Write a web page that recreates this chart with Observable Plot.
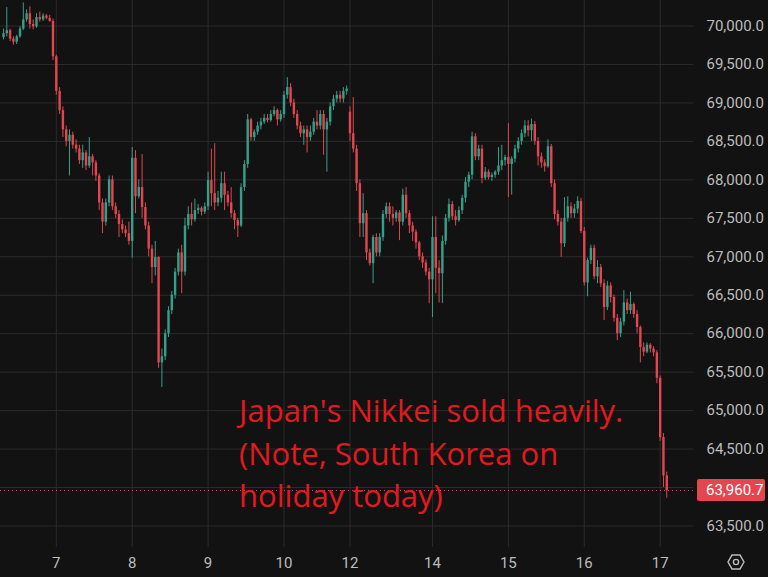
<!DOCTYPE html>
<html><head><meta charset="utf-8">
<script src="https://cdn.jsdelivr.net/npm/d3@7"></script>
<script src="https://cdn.jsdelivr.net/npm/@observablehq/plot@0.6"></script>
<style>
html,body{margin:0;padding:0;background:#121212;}
#chart{width:768px;height:577px;overflow:hidden;}
</style></head><body><div id="chart"></div>
<script>
const open = [69850,69900,69940,69830,69790,69860,69960,70080,70160,70020,
69990,70110,70080,70130,70100,70060,69600,69150,68900,68650,
68500,68580,68450,68400,68250,68350,68180,68300,68220,68050,
67700,67450,67700,68000,67650,67550,67420,67350,67300,67200,
68280,67780,67900,67640,67400,67100,66860,66990,65620,65700,
66000,66300,66500,66800,67050,66800,67400,67550,67480,67600,
67630,67580,67650,67990,67820,67700,67760,67950,67800,67700,
67560,67470,67400,67900,68200,68780,68550,68620,68700,68750,
68800,68770,68850,68900,68780,68850,69100,69200,69000,68850,
68700,68600,68650,68550,68620,68750,68700,68850,68650,68750,
68950,69050,69100,69050,69150,68880,68600,68400,67950,67430,
67560,67050,66910,67250,67050,67250,67550,67650,67550,67500,
67570,67450,67800,67560,67400,67320,67180,67000,66920,66800,
66700,67250,66850,66780,67200,67500,67680,67520,67470,67600,
67760,67970,68060,68560,68300,68400,68020,68100,68030,68060,
68100,68180,68250,68290,68200,68270,68400,68500,68600,68700,
68640,68720,68500,68300,68220,68170,68430,67950,67550,67450,
67170,67500,67650,67560,67620,67720,67330,66660,66950,67110,
66740,66860,66650,66340,66620,66470,66200,66000,66150,66400,
66300,66380,66250,66080,65820,65760,65850,65800,65750,65420,
64650,64150];
const high = [69960,70240,69960,69860,69880,69990,70300,70210,70250,70080,
70160,70180,70160,70150,70140,70090,69620,69200,68950,68700,
68650,68620,68520,68450,68450,68380,68550,68330,68250,68080,
67750,67750,68050,68050,67700,67600,67480,67400,67450,68420,
68380,68000,68330,67700,67450,67150,67200,67000,65800,66050,
66350,66550,66850,67100,67150,67500,67650,67700,67750,67680,
67650,67700,68100,68400,68470,67850,68100,68100,67850,67900,
67600,67500,67950,68250,68850,68800,68650,68750,68800,68850,
68850,68900,68950,68920,68900,69150,69330,69250,69050,68900,
68750,68700,68700,68700,68800,68900,68900,68900,68800,69000,
69100,69150,69150,69200,69220,68950,69070,68450,68000,67820,
67600,67100,67280,67300,67300,67600,67700,67700,67650,67600,
67600,67880,67900,67600,67450,67350,67200,67050,66960,66850,
67520,67520,66950,67270,67550,67750,67720,67600,67650,67800,
68030,68100,68620,68600,68450,68450,68160,68130,68090,68120,
68420,68450,68320,68730,68300,68450,68550,68650,68770,68770,
68790,68760,68550,68350,68260,68520,68460,68000,67600,67500,
67770,67780,67700,67680,67780,67760,67380,66980,67150,67150,
66950,66900,66700,66680,66660,66500,66250,66200,66560,66450,
66540,66400,66300,66100,65880,65880,65870,65830,65780,65450,
64700,64200];
const low = [69820,69860,69800,69750,69760,69840,69940,70050,69960,69950,
69970,70050,70060,70080,70050,69550,69100,68850,68550,68430,
68050,68400,68350,68200,68150,68120,68150,68050,67980,67600,
67300,67400,67650,67600,67500,67250,67300,67250,67150,66980,
67560,67750,67500,67350,67000,66650,66750,65550,65300,65650,
65950,66250,66450,66750,66520,66750,67350,67400,67450,67550,
67530,67550,67600,67650,67600,67650,67700,67600,67650,67500,
67350,67250,67380,67850,68150,68500,68500,68580,68650,68720,
68740,68750,68820,68700,68750,68800,69050,68950,68800,68650,
68550,68450,68350,68500,68580,68650,68650,68320,68100,68700,
68900,69000,69000,69000,69100,68500,68350,67850,67250,67250,
66950,66880,66650,67000,67000,67200,67500,67450,67400,67450,
67210,67400,67500,67300,67200,67100,66950,66850,66750,66390,
66210,66520,66400,66390,67150,67450,67470,67400,67450,67550,
67700,67900,68000,68250,68250,67950,67990,68000,67980,68020,
68060,68120,68180,67770,67800,68220,68350,68450,68550,68560,
68500,68450,68180,68150,68100,68150,67900,67480,67400,66990,
67120,67450,67500,67500,67560,67300,66620,66480,66900,66700,
66650,66600,66170,66300,66400,66150,65910,65950,66100,66250,
66250,66200,66000,65620,65700,65740,65750,65700,65350,64600,
64000,63860];
const close = [69900,69940,69830,69790,69860,69960,70080,70160,70020,69990,
70110,70080,70130,70100,70060,69600,69150,68900,68650,68500,
68580,68450,68400,68250,68350,68180,68300,68220,68050,67700,
67450,67700,68000,67650,67550,67420,67350,67300,67200,68280,
67780,67900,67640,67400,67100,66860,66990,65620,65700,66000,
66300,66500,66800,67050,66800,67400,67550,67480,67600,67630,
67580,67650,67990,67820,67700,67760,67950,67800,67700,67560,
67470,67400,67900,68200,68780,68550,68620,68700,68750,68800,
68770,68850,68900,68780,68850,69100,69200,69000,68850,68700,
68600,68650,68550,68620,68750,68700,68850,68650,68750,68950,
69050,69100,69050,69150,69180,68600,68400,67950,67430,67560,
67050,66910,67250,67050,67250,67550,67650,67550,67500,67570,
67450,67800,67560,67400,67320,67180,67000,66920,66800,66700,
67250,66850,66780,67200,67500,67680,67520,67470,67600,67760,
67970,68060,68560,68300,68400,68020,68100,68030,68060,68100,
68180,68250,68290,68200,68270,68400,68500,68600,68700,68640,
68720,68500,68300,68220,68170,68430,67950,67550,67450,67170,
67500,67650,67560,67620,67720,67330,66660,66950,67110,66740,
66860,66650,66340,66620,66470,66200,66000,66150,66400,66300,
66380,66250,66080,65820,65760,65850,65800,65750,65420,64650,
64150,63960.7];

const dayTickIndex = [16, 39, 62, 85, 105, 130, 153, 176, 199];
const dayTickLabels = ["7", "8", "9", "10", "12", "14", "15", "16", "17"];
const priceTicks = [63500,64000,64500,65000,65500,66000,66500,67000,67500,68000,68500,69000,69500,70000];
const noteLines = "Japan's Nikkei sold heavily.\n(Note, South Korea on\nholiday today)";
const noteAnchor = [{i: 71.4, price: 65240, text: noteLines}];

const UP = "#35a08a", DOWN = "#e2464f", GRID = "#2b2b2b", AXIS = "#bcbcbc", NOTE = "#e3191f";
const bars = close.map((c, i) => ({i, open: open[i], high: high[i], low: low[i], close: c,
  color: c >= open[i] ? UP : DOWN}));
const lastPrice = close[close.length - 1];
const fmt = d3.format(",.1f");
// the last-price tag hides the axis label it covers
const labelTicks = priceTicks.filter(t => Math.abs(t - lastPrice) > 150);

const chart = Plot.plot({
  width: 768, height: 577,
  marginTop: 0, marginRight: 75, marginBottom: 30, marginLeft: 0,
  style: {background: "#121212", color: AXIS, fontFamily: "Roboto, 'Noto Sans', sans-serif", fontSize: "15px", overflow: "visible"},
  x: {type: "linear", domain: [-0.91, 209.1]},
  y: {type: "linear", domain: [63220, 70332]},
  color: {type: "identity"},
  marks: [
    Plot.gridX({ticks: dayTickIndex, stroke: GRID, strokeOpacity: 1}),
    Plot.gridY({ticks: priceTicks, stroke: GRID, strokeOpacity: 1}),
    Plot.axisY({ticks: labelTicks, anchor: "right", label: null, tickSize: 0, tickPadding: 13, tickFormat: fmt, fill: AXIS, fontSize: 15}),
    Plot.axisX({ticks: dayTickIndex, anchor: "bottom", label: null, tickSize: 0, tickPadding: 10,
      tickFormat: d => dayTickLabels[dayTickIndex.indexOf(d)], fill: AXIS, fontSize: 15}),
    Plot.ruleY([lastPrice], {stroke: DOWN, strokeDasharray: "1,3", strokeWidth: 1}),
    Plot.ruleX(bars, {x: "i", y1: "low", y2: "high", stroke: "color", strokeWidth: 1}),
    Plot.ruleX(bars, {x: "i", y1: "open", y2: "close", stroke: "color", strokeWidth: 2.4}),
    Plot.text(noteAnchor, {x: "i", y: "price", text: "text", textAnchor: "start", lineAnchor: "top",
      fill: NOTE, fontSize: 31, lineHeight: 1.37, fontFamily: "'Open Sans', sans-serif"})
  ]
});

const svg = d3.select(chart);
const yPos = chart.scale("y").apply(lastPrice);
const g = svg.append("g");
g.append("rect").attr("x", 697).attr("y", yPos - 11).attr("width", 68).attr("height", 22)
  .attr("rx", 2).attr("fill", DOWN);
g.append("text").attr("x", 706).attr("y", yPos).attr("dy", "0.35em").attr("fill", "#ffffff")
  .attr("text-anchor", "start")
  .attr("font-size", 15).attr("font-family", "Roboto, 'Noto Sans', sans-serif").text(fmt(lastPrice));
// settings icon
const cx = 736, cy = 562, r = 8;
const hex = d3.range(6).map(k => [cx + r * Math.cos(Math.PI / 3 * k), cy + r * Math.sin(Math.PI / 3 * k)]);
g.append("path").attr("d", "M" + hex.map(p => p.join(",")).join("L") + "Z")
  .attr("fill", "none").attr("stroke", AXIS).attr("stroke-width", 1.4);
g.append("circle").attr("cx", cx).attr("cy", cy).attr("r", 2.6).attr("fill", "none").attr("stroke", AXIS).attr("stroke-width", 1.4);

document.getElementById("chart").append(chart);
</script></body></html>
